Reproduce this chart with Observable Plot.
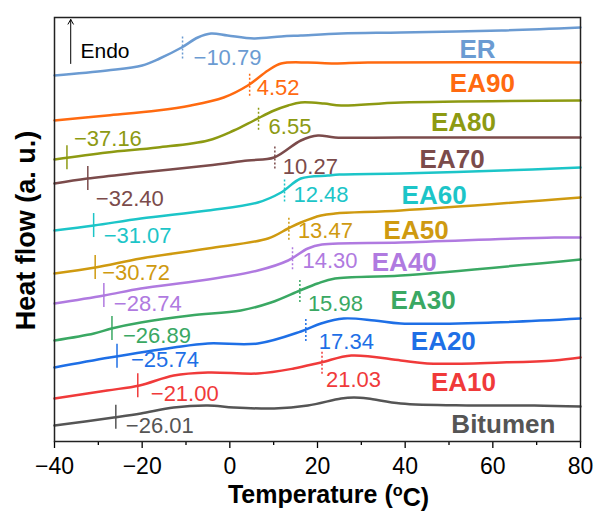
<!DOCTYPE html>
<html>
<head>
<meta charset="utf-8">
<script src="https://cdn.jsdelivr.net/npm/d3@7"></script>
<script src="https://cdn.jsdelivr.net/npm/@observablehq/plot@0.6"></script>
<style>
  body { margin: 0; background: #fff; }
  #chart svg { display: block; }
</style>
</head>
<body>
<div id="chart"></div>
<script>
// ---- Series (temperature °C, heat flow in arbitrary units) ----
const seriesNames = ["ER","EA90","EA80","EA70","EA60","EA50","EA40","EA30","EA20","EA10","Bitumen"];
const seriesColors = ["#6b9bd2","#ff6a10","#8d9a12","#7b4b4b","#1cc5c8","#cf9a10","#b07ae0","#3aa863","#1e6fe6","#f03a3a","#555555"];

const tER = [-40,-28,-20,-16,-11,-7.3,-4.3,-0.5,5.5,11.7,16.2,25.4,39,62,80];
const hER = [366,371,376,383,394,404,408,406,403,405,406,408,409,411,414];

const tEA90 = [-40,-28,-16.5,-8.9,-1.4,4.1,8.7,11.7,17.8,23.8,31.5,80];
const hEA90 = [321,326,331,336,344,356,371,378,379,378,379,379];

const tEA80 = [-40,-28,-16.5,-5,0.9,5.5,10.1,13.3,16.2,21.5,25.4,39,80];
const hEA80 = [282,289,294,301,311,321,331,336,339,338,336,339,341];

const tEA70 = [-40,-32.5,-20.3,-5,4.1,10.1,16.2,20.1,24,39,80];
const hEA70 = [258,263,269,276,281,284,301,306,304,304,304];

const tEA60 = [-40,-31,-20.3,-5,6.4,11.7,16.2,22.4,25,39,62,80];
const hEA60 = [211,216,223,231,239,249,263,266,267,268,271,274];

const tEA50 = [-40,-30.7,-20.3,-5,8.7,13.3,16.2,20.8,24,39,80];
const hEA50 = [168,174,183,193,203,213,219,226,228,231,244];

const tEA40 = [-40,-28.7,-20.3,-6.6,6.4,13.3,17.8,21,39,74,80];
const hEA40 = [138,146,153,161,171,181,193,197,199,204,204];

const tEA30 = [-40,-31,-27,-20.3,-9,2.5,9.4,16,20,24,39,80];
const hEA30 = [101,108,113,119,126,131,139,151,158,163,166,182];

const tEA20 = [-40,-27.4,-12.8,-5,6.4,16.2,20.8,26,33,39,60,80];
const hEA20 = [74,84,94,98,98,110,118,123,121,118,119,123];

const tEA10 = [-40,-28,-20.6,-12.8,-5,6.4,14.6,20.8,27.7,39,45,62,74,80];
const hEA10 = [43,51,56,66,69,68,73,79,86,81,78,79,81,84];

const tBit = [-40,-26.5,-20.3,-12.8,-5,0.9,10.1,17.8,25.4,28.3,31.5,39,54.4,69.5,80];
const hBit = [16,24,28,34,36,34,33,36,43,44,43,38,36,36,35];

// ---- Glass-transition markers ----
const markSeries = ["ER","EA90","EA80","EA80","EA70","EA70","EA60","EA60","EA50","EA50","EA40","EA40","EA30","EA30","EA20","EA20","EA10","EA10","Bitumen"];
const markTg = [-10.79,4.52,6.55,-37.16,10.27,-32.40,12.48,-31.07,13.47,-30.72,14.30,-28.74,15.98,-26.89,17.34,-25.74,21.03,-21.00,-26.01];
const markLabels = ["−10.79","4.52","6.55","−37.16","10.27","−32.40","12.48","−31.07","13.47","−30.72","14.30","−28.74","15.98","−26.89","17.34","−25.74","21.03","−21.00","−26.01"];
// label offsets (px) from marker
const labelDx = [11,7,10,7,8,8,9,10,9,7,10,10,8,11,13,14,4,13,10];
const labelDy = [11,4,9,-19,10,21,5,10,3,5,3,8,13,8,12,4,18,8,9];

// ---- Series name labels (anchor in data space) ----
const nameT = [56.5,57.6,53.3,50.7,46.6,42.5,39.8,44.1,48.7,53.3,62.4];
const nameHF = [392,358,319,282,246,211,179,141,100,59,17];

// ---- Axis ticks ----
const majorTicks = [-40,-20,0,20,40,60,80];
const minorTicks = [-30,-10,10,30,50,70];

const seriesT = [tER,tEA90,tEA80,tEA70,tEA60,tEA50,tEA40,tEA30,tEA20,tEA10,tBit];
const seriesH = [hER,hEA90,hEA80,hEA70,hEA60,hEA50,hEA40,hEA30,hEA20,hEA10,hBit];

const rows = [];
seriesNames.forEach((s, i) => {
  seriesT[i].forEach((t, j) => rows.push({series: s, T: t, hf: seriesH[i][j]}));
});

function curveAt(s, t) {
  const i = seriesNames.indexOf(s);
  const ts = seriesT[i], hs = seriesH[i];
  for (let k = 0; k < ts.length - 1; k++) {
    if (t >= ts[k] && t <= ts[k + 1]) {
      const f = (t - ts[k]) / (ts[k + 1] - ts[k]);
      return hs[k] + f * (hs[k + 1] - hs[k]);
    }
  }
  return hs[hs.length - 1];
}

const markers = markSeries.map((s, i) => ({
  series: s, T: markTg[i], yc: curveAt(s, markTg[i]),
  label: markLabels[i], dx: labelDx[i], dy: labelDy[i], dotted: markTg[i] > -20
}));

const names = seriesNames.map((s, i) => ({series: s, T: nameT[i], hf: nameHF[i]}));

const font = "'Liberation Sans', Arial, Helvetica, sans-serif";
const half = 12;

const chart = Plot.plot({
  width: 594,
  height: 512,
  marginLeft: 54,
  marginRight: 14,
  marginTop: 17,
  marginBottom: 71,
  style: {fontFamily: font, color: "#000", background: "#fff"},
  x: {domain: [-40, 80]},
  y: {domain: [0, 424], axis: null},
  color: {domain: seriesNames, range: seriesColors},
  marks: [
    Plot.axisX({ticks: minorTicks, tickSize: 4, tickFormat: () => "", label: null, strokeWidth: 1.3}),
    Plot.axisX({ticks: majorTicks, tickSize: 7, tickPadding: 9, fontSize: 23, label: null, strokeWidth: 1.3,
      tickFormat: d => d < 0 ? "−" + Math.abs(d) : String(d)}),
    Plot.line(rows, {x: "T", y: "hf", z: "series", stroke: "series", strokeWidth: 2.5, curve: "catmull-rom"}),
    Plot.ruleX(markers.filter(m => !m.dotted), {x: "T", y1: d => d.yc - half, y2: d => d.yc + half, stroke: "series", strokeWidth: 1.5}),
    Plot.ruleX(markers.filter(m => m.dotted), {x: "T", y1: d => d.yc - half, y2: d => d.yc + half, stroke: "series", strokeWidth: 1.5, strokeDasharray: "2,2"}),
    ...markers.map(m => Plot.text([m], {x: "T", y: "yc", text: "label", fill: "series", dx: m.dx, dy: m.dy, textAnchor: "start", fontSize: 22})),
    Plot.text(names, {x: "T", y: "hf", text: "series", fill: "series", fontSize: 26, fontWeight: "bold"}),
    Plot.arrow([0], {x1: -36.3, x2: -36.3, y1: 378, y2: 422, stroke: "#000", strokeWidth: 1, headLength: 8}),
    Plot.text(["Endo"], {frameAnchor: "top-left", dx: 26, dy: 26, textAnchor: "start", fontSize: 21, fill: "#000"}),
    Plot.text(["Heat flow (a. u.)"], {frameAnchor: "left", textAnchor: "middle", dx: -28, dy: 1, rotate: -90, fontSize: 27, fontWeight: "bold", fill: "#000"}),
    Plot.text(["Temperature (oC)"], {frameAnchor: "bottom", textAnchor: "middle", dx: 11, dy: 61, fontSize: 25, fontWeight: "bold", fill: "#000"}),
    Plot.frame({stroke: "#222", strokeWidth: 1.5})
  ]
});

// superscript "o" in the x title
d3.select(chart).selectAll("text").filter(function () { return this.textContent === "Temperature (oC)"; })
  .each(function () {
    const t = d3.select(this);
    t.text(null);
    t.append("tspan").text("Temperature (");
    t.append("tspan").attr("dy", "-0.4em").attr("font-size", "0.65em").text("o");
    t.append("tspan").attr("dy", "0.4em").text("C)");
  });

document.getElementById("chart").appendChild(chart);
</script>
</body>
</html>
